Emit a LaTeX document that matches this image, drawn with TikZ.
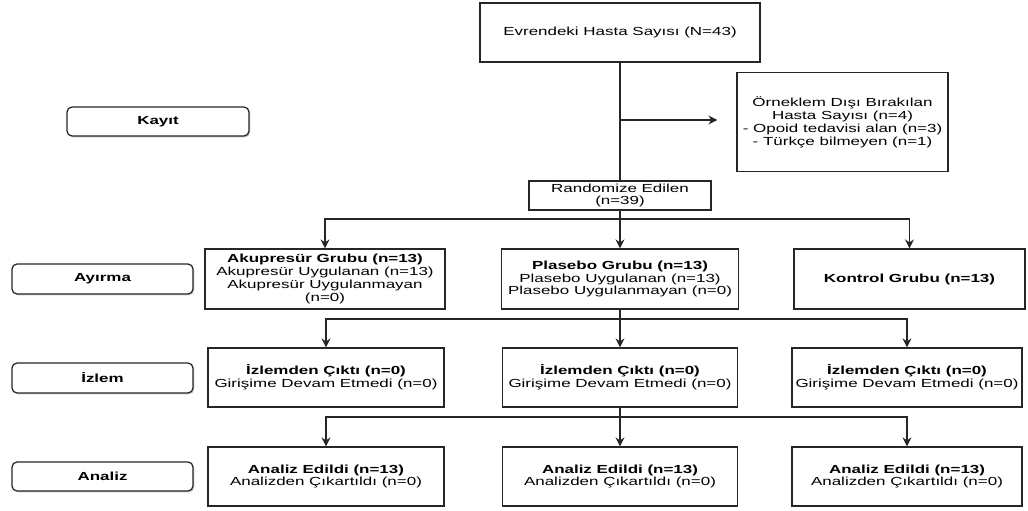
\documentclass[tikz,border=0pt]{standalone}
\usepackage{fontspec}
\setmainfont{Liberation Sans}[FakeStretch=1.45]
\usetikzlibrary{arrows.meta,shadows}
\begin{document}
\begin{tikzpicture}[x=1pt,y=-1pt,
 box/.style={draw=black!85, line width=1.25pt, rectangle, align=center, inner sep=0pt, fill=white, font=\fontsize{11.7}{12.9}\selectfont},
 side/.style={box, rounded corners=5pt, font=\fontsize{11.7}{12.9}\selectfont\bfseries, drop shadow={shadow xshift=1.3pt, shadow yshift=-1.3pt, opacity=0.4}},
 conn/.style={draw=black!85, line width=1.25pt},
 arr/.style={conn, -{Stealth[length=9pt,width=9pt,inset=3pt]}}]
\useasboundingbox (0,0) rectangle (1028,511);
\fill[white] (0,0) rectangle (1028,511);

% side labels
\node[side, minimum width=182pt, minimum height=29pt] (kayit) at (158,121.5) {Kayıt};
\node[side, minimum width=181pt, minimum height=30pt] (ayirma) at (102.5,279) {Ayırma};
\node[side, minimum width=181pt, minimum height=30pt] (izlem) at (102.5,378) {İzlem};
\node[side, minimum width=181pt, minimum height=29pt] (analiz) at (102.5,476.5) {Analiz};

% main flow
\node[box, minimum width=280pt, minimum height=59pt] (top) at (620,32.5) {Evrendeki Hasta Sayısı (N=43)};
\node[box, minimum width=211pt, minimum height=99pt] (excl) at (842.5,122) {Örneklem Dışı Bırakılan\\Hasta Sayısı (n=4)\\- Opoid tedavisi alan (n=3)\\- Türkçe bilmeyen (n=1)};
\node[box, minimum width=182pt, minimum height=29pt] (rand) at (620,195.5) {Randomize Edilen\\(n=39)};

\node[box, minimum width=240pt, minimum height=60pt] (ak) at (325,279) {\textbf{Akupresür Grubu (n=13)}\\Akupresür Uygulanan (n=13)\\Akupresür Uygulanmayan\\(n=0)};
\node[box, minimum width=237pt, minimum height=60pt] (pl) at (620,279) {\textbf{Plasebo Grubu (n=13)}\\Plasebo Uygulanan (n=13)\\Plasebo Uygulanmayan (n=0)};
\node[box, minimum width=231pt, minimum height=60pt] (ko) at (909.5,279) {\textbf{Kontrol Grubu (n=13)}};

\node[box, minimum width=236pt, minimum height=59pt] (iz1) at (326,377.5) {\textbf{İzlemden Çıktı (n=0)}\\Girişime Devam Etmedi (n=0)};
\node[box, minimum width=235pt, minimum height=59pt] (iz2) at (620,377.5) {\textbf{İzlemden Çıktı (n=0)}\\Girişime Devam Etmedi (n=0)};
\node[box, minimum width=230pt, minimum height=59pt] (iz3) at (907,377.5) {\textbf{İzlemden Çıktı (n=0)}\\Girişime Devam Etmedi (n=0)};

\node[box, minimum width=236pt, minimum height=59pt] (an1) at (326,476.5) {\textbf{Analiz Edildi (n=13)}\\Analizden Çıkartıldı (n=0)};
\node[box, minimum width=235pt, minimum height=59pt] (an2) at (620,476.5) {\textbf{Analiz Edildi (n=13)}\\Analizden Çıkartıldı (n=0)};
\node[box, minimum width=230pt, minimum height=59pt] (an3) at (907,476.5) {\textbf{Analiz Edildi (n=13)}\\Analizden Çıkartıldı (n=0)};

% connectors
\draw[conn] (top.south) -- (rand.north);
\coordinate (ex) at (620,120);
\draw[arr, shorten >=19pt] (ex) -- (ex -| excl.west);

\coordinate (j1) at (620,219);
\draw[conn] (rand.south) -- (j1);
\draw[arr] (j1) -| (ak.north);
\draw[arr] (j1) -- (pl.north);
\draw[arr] (j1) -| (ko.north);

\coordinate (j2) at (620,319);
\draw[conn] (pl.south) -- (j2);
\draw[arr] (j2) -| (iz1.north);
\draw[arr] (j2) -- (iz2.north);
\draw[arr] (j2) -| (iz3.north);

\coordinate (j3) at (620,417);
\draw[conn] (iz2.south) -- (j3);
\draw[arr] (j3) -| (an1.north);
\draw[arr] (j3) -- (an2.north);
\draw[arr] (j3) -| (an3.north);
\end{tikzpicture}
\end{document}
